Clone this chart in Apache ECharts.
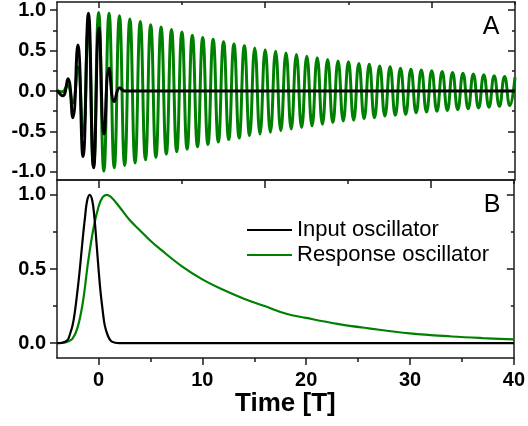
<!DOCTYPE html>
<html>
<head>
<meta charset="utf-8">
<script src="https://cdn.jsdelivr.net/npm/echarts@6/dist/echarts.min.js"></script>
<style>
  html, body { margin: 0; padding: 0; background: #fff; }
  #chart { width: 528px; height: 426px; }
</style>
</head>
<body>
<div id="chart"></div>
<script>
// time axis (units of T)
const xMin = -4
const xMax = 40
const bottomTicks = [0, 10, 20, 30, 40]
const bottomMinor = [5, 15, 25, 35]
const topTicks = [0, 16, 32]
const topMinor = [8, 24, 40]
const yTicksA = [-1, -0.5, 0, 0.5, 1]
const yMinorA = [-0.75, -0.25, 0.25, 0.75]
const yTicksB = [0, 0.5, 1]
const yMinorB = [0.25, 0.75]

// panel A: input oscillator, extrema
const inputWaveT = [-4, -3.45, -2.95, -2.48, -2.0, -1.5, -0.98, -0.48, 0.03, 0.52, 1.0, 1.5, 2.03, 2.5, 40]
const inputWaveY = [0.01, -0.06, 0.15, -0.33, 0.57, -0.81, 0.96, -0.95, 0.78, -0.53, 0.28, -0.13, 0.04, 0, 0]

// panel A: response oscillator before t = 0
const respPreT = [-4, -3.5, -3, -2.5, -2, -1.5, -1, -0.5]
const respPreY = [0, -0.01, 0.07, -0.15, 0.3, -0.55, 0.78, -0.93]
// peaks at t = 0, 1, 2 ... 40 and troughs at t = 0.5, 1.5 ... 39.5
const respPeaks = [0.97, 0.96, 0.93, 0.89, 0.86, 0.82, 0.79, 0.76, 0.73, 0.69,
  0.66, 0.64, 0.61, 0.58, 0.56, 0.53, 0.51, 0.49, 0.47, 0.45,
  0.43, 0.41, 0.39, 0.37, 0.36, 0.34, 0.33, 0.31, 0.30, 0.28,
  0.27, 0.26, 0.25, 0.24, 0.23, 0.22, 0.21, 0.20, 0.19, 0.18, 0.17]
const respTroughs = [-0.99, -0.95, -0.92, -0.89, -0.85, -0.82, -0.78, -0.75, -0.72, -0.69,
  -0.66, -0.63, -0.60, -0.58, -0.55, -0.53, -0.51, -0.49, -0.47, -0.45,
  -0.43, -0.41, -0.39, -0.37, -0.36, -0.34, -0.33, -0.31, -0.30, -0.29,
  -0.27, -0.26, -0.25, -0.24, -0.23, -0.22, -0.21, -0.20, -0.19, -0.18]

// panel B: energies
const inputET = [-4, -3.5, -3, -2.8, -2.5, -2.3, -2, -1.8, -1.5, -1.3, -1.1, -0.85, -0.6, -0.4, -0.2, 0, 0.2, 0.4, 0.6, 0.9, 1.2, 1.6, 2, 40]
const inputE = [0, 0.003, 0.02, 0.05, 0.12, 0.2, 0.37, 0.5, 0.72, 0.85, 0.96, 1.0, 0.96, 0.85, 0.68, 0.5, 0.34, 0.22, 0.12, 0.05, 0.015, 0.003, 0, 0]
const respET = [-4, -3.5, -3, -2.5, -2, -1.5, -1, -0.5, 0, 0.4, 0.8, 1.2, 2, 3, 4, 5, 6, 8, 10, 12, 14, 16, 18, 20, 23, 26, 30, 34, 37, 40]
const respE = [0, 0.002, 0.01, 0.03, 0.11, 0.28, 0.55, 0.77, 0.92, 0.985, 1.0, 0.985, 0.92, 0.83, 0.76, 0.69, 0.63, 0.52, 0.43, 0.36, 0.3, 0.25, 0.2, 0.17, 0.13, 0.1, 0.066, 0.045, 0.034, 0.026]

const font = 'Liberation Sans, Arial, sans-serif'
const axisColor = '#1a1a1a'
const green = '#008000'

const zip = (xs, ys) => xs.map((x, i) => [x, ys[i]])

const respWave = zip(respPreT, respPreY)
respPeaks.forEach((a, i) => {
  respWave.push([i, a])
  if (i < respTroughs.length) respWave.push([i + 0.5, respTroughs[i]])
})

// one axis = one set of ticks; frame lines only on the "line" ones
function xAx(grid, position, ticks, len, inside, line, labels) {
  return {
    type: 'value', gridIndex: grid, position: position, min: xMin, max: xMax,
    splitLine: { show: false },
    axisLine: { show: line, onZero: false, lineStyle: { color: axisColor, width: 1.5 } },
    axisTick: ticks ? { show: true, customValues: ticks, length: len, inside: inside, lineStyle: { color: axisColor, width: 1.5 } } : { show: false },
    axisLabel: labels ? {
      show: true, customValues: labels, margin: 12,
      fontFamily: font, fontSize: 20, fontWeight: 'bold', color: '#000'
    } : { show: false }
  }
}
function yAx(grid, position, min, max, ticks, len, inside, line, labels) {
  return {
    type: 'value', gridIndex: grid, position: position, min: min, max: max,
    splitLine: { show: false },
    axisLine: { show: line, onZero: false, lineStyle: { color: axisColor, width: 1.5 } },
    axisTick: { show: true, customValues: ticks, length: len, inside: inside, lineStyle: { color: axisColor, width: 1.5 } },
    axisLabel: labels ? {
      show: true, customValues: labels, margin: 11,
      formatter: v => v.toFixed(1),
      fontFamily: font, fontSize: 20, fontWeight: 'bold', color: '#000'
    } : { show: false }
  }
}

const xAxes = [
  xAx(0, 'bottom', null, 0, false, true, null),
  xAx(0, 'top', topTicks, 6, true, true, null),
  xAx(0, 'top', topMinor, 3, true, false, null),
  xAx(1, 'bottom', bottomTicks, 7, false, true, bottomTicks),
  xAx(1, 'bottom', bottomMinor, 4, false, false, null),
  xAx(1, 'top', topTicks, 8, true, true, null),
  xAx(1, 'top', topMinor, 4, true, false, null)
]
xAxes[3].name = 'Time [T]'
xAxes[3].nameLocation = 'middle'
xAxes[3].nameGap = 28
xAxes[3].nameTextStyle = { fontFamily: font, fontSize: 26, fontWeight: 'bold', color: '#000' }

const yAxes = [
  yAx(0, 'left', -1.1, 1.1, yTicksA, 7, false, true, yTicksA),
  yAx(0, 'left', -1.1, 1.1, yMinorA, 4, false, false, null),
  yAx(0, 'right', -1.1, 1.1, yTicksA, 7, true, true, null),
  yAx(0, 'right', -1.1, 1.1, yMinorA, 3, true, false, null),
  yAx(1, 'left', -0.1, 1.1, yTicksB, 7, false, true, yTicksB),
  yAx(1, 'left', -0.1, 1.1, yMinorB, 4, false, false, null),
  yAx(1, 'right', -0.1, 1.1, yTicksB, 7, true, true, null),
  yAx(1, 'right', -0.1, 1.1, yMinorB, 3, true, false, null)
]

const chart = echarts.init(document.getElementById('chart'))
chart.setOption({
  animation: false,
  grid: [
    { left: 57, top: 2, width: 458, height: 178 },
    { left: 57, top: 180, width: 458, height: 178 }
  ],
  xAxis: xAxes,
  yAxis: yAxes,
  legend: {
    orient: 'vertical', left: 247, top: 219, padding: 0, itemGap: 3,
    icon: 'rect', itemWidth: 45, itemHeight: 2,
    textStyle: { fontFamily: font, fontSize: 22, color: '#000' },
    data: ['Input oscillator', 'Response oscillator']
  },
  graphic: [
    { type: 'text', x: 491, y: 27, style: { text: 'A', font: '25px ' + font, fill: '#000', textAlign: 'center', textVerticalAlign: 'middle' } },
    { type: 'text', x: 492, y: 205, style: { text: 'B', font: '25px ' + font, fill: '#000', textAlign: 'center', textVerticalAlign: 'middle' } }
  ],
  series: [
    {
      name: 'Response oscillator', type: 'line', xAxisIndex: 0, yAxisIndex: 0,
      data: respWave, smooth: 0.5, showSymbol: false, color: green,
      lineStyle: { color: green, width: 3 }
    },
    {
      name: 'Input oscillator', type: 'line', xAxisIndex: 0, yAxisIndex: 0,
      data: zip(inputWaveT, inputWaveY), smooth: 0.5, showSymbol: false, color: '#000',
      lineStyle: { color: '#000', width: 3 }
    },
    {
      name: 'Response oscillator', type: 'line', xAxisIndex: 3, yAxisIndex: 4,
      data: zip(respET, respE), smooth: 0.4, showSymbol: false, color: green,
      lineStyle: { color: green, width: 2.2 }
    },
    {
      name: 'Input oscillator', type: 'line', xAxisIndex: 3, yAxisIndex: 4,
      data: zip(inputET, inputE), smooth: 0.4, showSymbol: false, color: '#000',
      lineStyle: { color: '#000', width: 2.2 }
    }
  ]
})
</script>
</body>
</html>
